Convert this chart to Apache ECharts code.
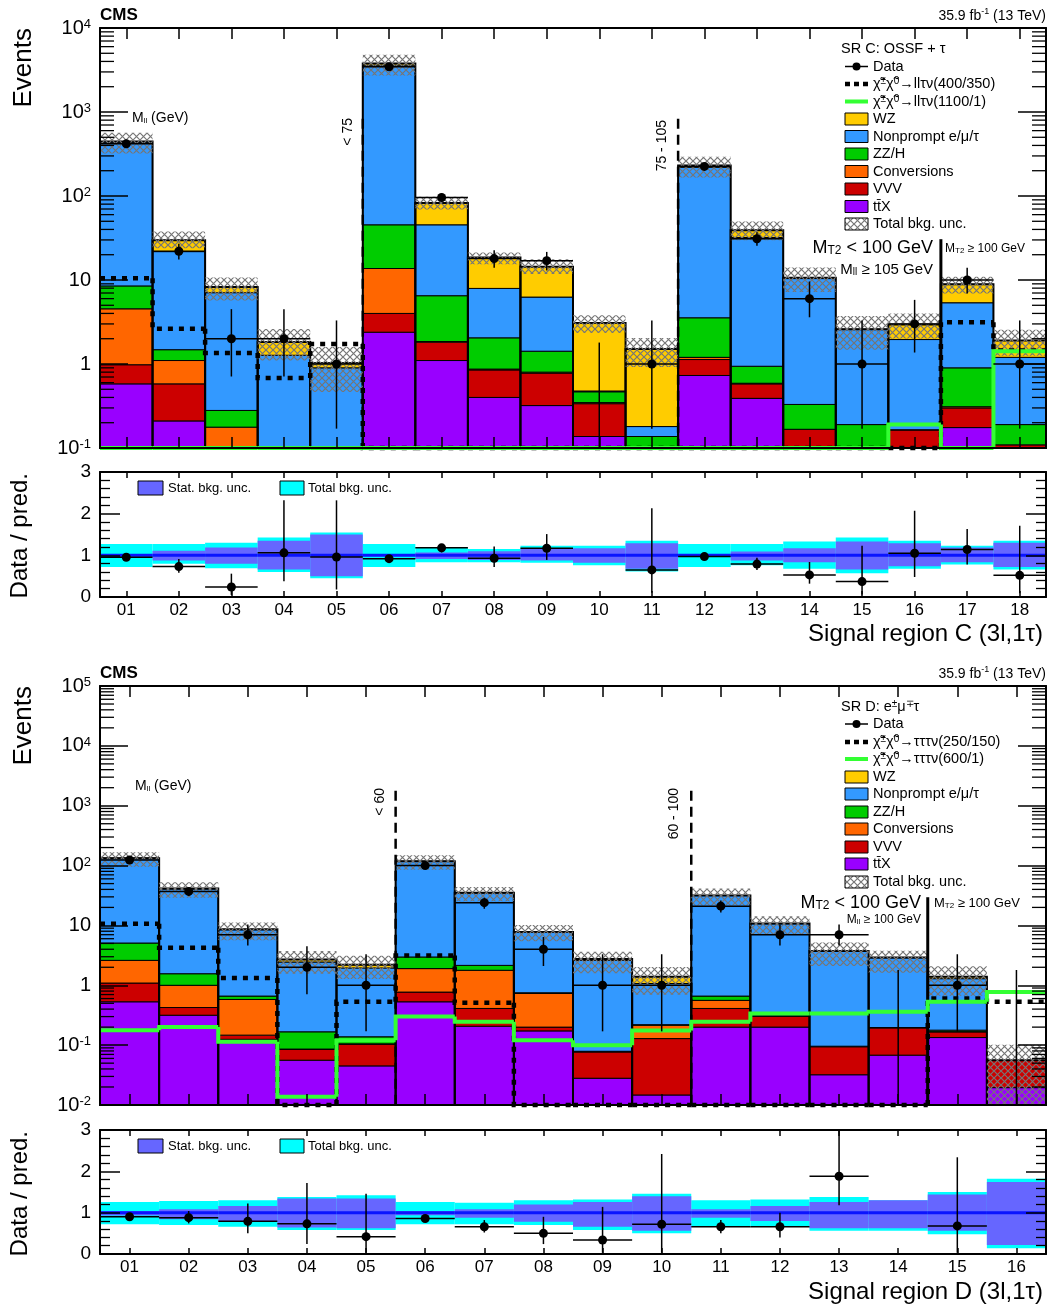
<!DOCTYPE html>
<html><head><meta charset="utf-8">
<script src="https://cdn.jsdelivr.net/npm/echarts@6/dist/echarts.min.js"></script>
<style>html,body{margin:0;padding:0;background:#fff}#c{width:1049px;height:1311px}</style>
</head><body><div id="c"></div>
<script>
// ===================== DATA: Signal region C =====================
const binsC = ['01','02','03','04','05','06','07','08','09','10','11','12','13','14','15','16','17','18'];
const ttxC  = [0.58, 0.21, 0.02, 0.01, 0.01, 2.39, 1.1, 0.4, 0.32, 0.137, 0.02, 0.73, 0.39, 0.04, 0.03, 0.03, 0.175, 0.05];
const vvvC  = [0.40, 0.37, 0.03, 0.01, 0.01, 1.61, 0.72, 0.45, 0.46, 0.20, 0.02, 0.40, 0.19, 0.127, 0.02, 0.134, 0.125, 0.059];
const convC = [3.56, 0.52, 0.127, 0.01, 0.01, 9.7, 0.03, 0.02, 0.02, 0.01, 0.0, 0.07, 0.01, 0.0, 0.0, 0.0, 0.01, 0.0];
const zzC   = [3.96, 0.38, 0.103, 0.03, 0.02, 31.7, 4.65, 1.18, 0.62, 0.12, 0.097, 2.35, 0.35, 0.163, 0.14, 0.001, 0.59, 0.081];
const npC   = [429.5, 20.3, 6.78, 1.21, 0.85, 3565, 38.9, 5.89, 4.84, 0.01, 0.043, 216.5, 31.1, 10.07, 2.38, 1.79, 4.46, 1.01];
const wzC   = [7, 8.0, 1.19, 0.56, 0.13, 170, 37.1, 10.56, 8.14, 2.61, 1.33, 11, 7.2, 0.2, 0.03, 1.0, 3.51, 0.7];
const dataC   = [418, 22, 2, 2, 1, 3450, 96, 18, 17, 0, 1, 225, 31, 6, 1, 3, 10, 1];
const dataLoC = [398, 17.5, 0.71, 0.71, 0.17, 3391, 86, 14, 13, 0, 0.17, 210, 25.5, 3.6, 0.17, 1.37, 6.9, 0.17];
const dataHiC = [439, 27, 4.5, 4.5, 3.3, 3509, 107, 22.6, 21.6, 1.8, 3.3, 240, 37, 9.6, 3.3, 5.8, 14, 3.3];
const sigAC = [10.5, 2.62, 1.35, 0.68, 1.73, 0.1, 0.1, 0.1, 0.1, 0.1, 0.1, 0.1, 0.1, 0.1, 0.1, 0.1, 3.15, 1.45];
const sigBC = [0.1, 0.1, 0.1, 0.1, 0.1, 0.1, 0.1, 0.1, 0.1, 0.1, 0.1, 0.1, 0.1, 0.1, 0.1, 0.19, 0.1, 1.42];
const totLoC  = [0.72, 0.8, 0.69, 0.6, 0.45, 0.72, 0.835, 0.835, 0.82, 0.76, 0.61, 0.72, 0.76, 0.68, 0.57, 0.68, 0.78, 0.66];
const totHiC  = [1.27, 1.27, 1.30, 1.43, 1.55, 1.27, 1.19, 1.15, 1.23, 1.23, 1.35, 1.27, 1.27, 1.33, 1.43, 1.35, 1.23, 1.35];
const statLoC = [0.97, 0.875, 0.8, 0.66, 0.5, 0.98, 0.91, 0.89, 0.875, 0.82, 0.68, 0.97, 0.875, 0.835, 0.66, 0.74, 0.835, 0.72];
const statHiC = [1.03, 1.11, 1.19, 1.35, 1.5, 1.02, 1.07, 1.1, 1.15, 1.17, 1.29, 1.03, 1.09, 1.17, 1.33, 1.29, 1.19, 1.30];
const ratioC   = [0.955, 0.73, 0.24, 1.06, 0.96, 0.92, 1.18, 0.93, 1.17, null, 0.65, 0.97, 0.79, 0.53, 0.37, 1.05, 1.14, 0.52];
const ratioLoC = [0.92, 0.58, 0.05, 0.38, 0.18, 0.9, 1.07, 0.72, 0.89, null, 0.1, 0.9, 0.65, 0.32, 0.06, 0.48, 0.78, 0.09];
const ratioHiC = [0.99, 0.91, 0.56, 2.32, 2.32, 0.94, 1.27, 1.21, 1.51, null, 2.13, 1.03, 0.94, 0.84, 1.23, 2.07, 1.63, 1.71];

// ===================== DATA: Signal region D =====================
const binsD = ['01','02','03','04','05','06','07','08','09','10','11','12','13','14','15','16'];
const ttxD  = [0.53, 0.316, 0.125, 0.056, 0.045, 0.53, 0.207, 0.173, 0.028, 0.0147, 0.2, 0.2, 0.032, 0.068, 0.134, 0.0195];
const vvvD  = [0.56, 0.109, 0.022, 0.029, 0.059, 0.24, 0.203, 0.027, 0.049, 0.114, 0.21, 0.104, 0.062, 0.127, 0.033, 0.0365];
const convD = [1.52, 0.575, 0.433, 0.001, 0.001, 1.13, 1.37, 0.53, 0.001, 0.087, 0.15, 0.001, 0.001, 0.001, 0.001, 0];
const zzD   = [2.47, 0.56, 0.08, 0.081, 0.033, 1.07, 0.37, 0.02, 0.001, 0.004, 0.1, 0.005, 0.001, 0.001, 0.01, 0];
const npD   = [126.9, 39.24, 7.81, 2.283, 1.812, 114.03, 32.85, 6.99, 2.521, 0.85, 30.94, 10.39, 3.634, 2.693, 1.112, 0];
const wzD   = [1, 0.5, 0.13, 0.25, 0.25, 1, 0.3, 0.06, 0.15, 0.32, 0.1, 0.05, 0.02, 0.01, 0.1, 0];
const dataD   = [124, 37, 7, 2, 1, 100, 24, 4, 1, 1, 21, 7, 7, 0, 1, 0];
const dataLoD = [113, 31, 4.6, 0.71, 0.17, 90, 19, 2.1, 0.17, 0.17, 16.4, 4.6, 4.6, 0, 0.17, 0];
const dataHiD = [135, 43, 10.4, 4.5, 3.3, 110, 29, 6.4, 3.3, 3.3, 26, 10.4, 10.4, 1.8, 3.3, 1.8];
const sigAD = [10.7, 4.24, 1.32, 0.01, 0.53, 3.16, 0.51, 0.01, 0.01, 0.01, 0.01, 0.01, 0.01, 0.01, 0.6, 0.53];
const sigBD = [0.178, 0.2, 0.114, 0.0138, 0.121, 0.3, 0.245, 0.121, 0.1, 0.175, 0.245, 0.337, 0.337, 0.36, 0.53, 0.77];
const totLoD  = [0.72, 0.7, 0.66, 0.58, 0.58, 0.72, 0.72, 0.7, 0.58, 0.5, 0.68, 0.66, 0.56, 0.56, 0.48, 0.14];
const totHiD  = [1.26, 1.28, 1.30, 1.38, 1.42, 1.26, 1.24, 1.30, 1.32, 1.46, 1.30, 1.32, 1.38, 1.30, 1.5, 1.82];
const statLoD = [0.93, 0.84, 0.8, 0.64, 0.62, 0.94, 0.88, 0.78, 0.66, 0.56, 0.88, 0.8, 0.62, 0.62, 0.56, 0.22];
const statHiD = [1.04, 1.08, 1.16, 1.34, 1.34, 1.04, 1.08, 1.2, 1.26, 1.4, 1.08, 1.16, 1.26, 1.30, 1.44, 1.74];
const ratioD   = [0.9, 0.88, 0.79, 0.73, 0.42, 0.86, 0.66, 0.5, 0.34, 0.72, 0.66, 0.66, 1.88, null, 0.68, null];
const ratioLoD = [0.85, 0.74, 0.5, 0.24, 0.03, 0.78, 0.52, 0.24, 0.03, 0.03, 0.5, 0.4, 1.18, null, 0.03, null];
const ratioHiD = [0.96, 1.04, 1.22, 1.72, 1.46, 0.92, 0.82, 0.9, 1.14, 2.42, 0.82, 1.0, 2.98, null, 2.34, null];

// region separators: [bin index right of the edge, top value, dashed?]
const sepC = [[5, 830, 1], [11, 830, 1], [16, 30.6, 0]];
const sepD = [[5, 1780, 1], [10, 1780, 1], [14, 29.6, 0]];

// ===================== STYLE =====================
const FONT = "'Liberation Sans', Arial, Helvetica, sans-serif";
const COL = {wz:'#ffcc00', np:'#3399ff', zz:'#00cc00', conv:'#ff6600', vvv:'#cc0000', ttx:'#9900ff'};
const SIG_GREEN = '#33ff33';

const hatch = document.createElement('canvas');
hatch.width = 7; hatch.height = 7;
(function(){ const g = hatch.getContext('2d'); g.strokeStyle = '#767676'; g.lineWidth = 1.2;
  g.beginPath(); g.moveTo(0,0); g.lineTo(7,7); g.moveTo(7,0); g.lineTo(0,7); g.stroke(); })();
const HATCH = {image: hatch, repeat: 'repeat'};

// ===================== RENDERERS =====================
function rectRender(style, yMin) {
  return function(params, api) {
    const i = api.value(0); let lo = api.value(1); const hi = api.value(2);
    if (lo < yMin) lo = yMin;
    if (!(hi > lo)) return null;
    const w = api.size([1, 0])[0];
    const a = api.coord([i, hi]), b = api.coord([i, lo]);
    return {type:'rect', shape:{x:a[0]-w/2, y:a[1], width:w, height:b[1]-a[1]}, style: Object.assign({}, style)};
  };
}
function stepRender(style, yMin) {
  return function(params, api) {
    const i = api.value(0); const v = Math.max(api.value(1), yMin); const pv = api.value(2);
    const w = api.size([1, 0])[0];
    const p = api.coord([i, v]);
    const pts = [];
    if (pv > 0) { const q = api.coord([i, Math.max(pv, yMin)]); pts.push([p[0]-w/2, q[1]]); }
    pts.push([p[0]-w/2, p[1]], [p[0]+w/2, p[1]]);
    return {type:'polyline', shape:{points:pts}, style: Object.assign({fill:'none'}, style)};
  };
}
function dataRender(yMin, r) {
  return function(params, api) {
    const i = api.value(0), v = api.value(1), lo = Math.max(api.value(2), yMin), hi = api.value(3);
    const w = api.size([1, 0])[0];
    const ch = [];
    const pH = api.coord([i, hi]), pL = api.coord([i, lo]);
    ch.push({type:'line', shape:{x1:pH[0], y1:pH[1], x2:pL[0], y2:pL[1]}, style:{stroke:'#000', lineWidth:1.5}});
    if (v > 0) {
      const p = api.coord([i, v]);
      ch.push({type:'line', shape:{x1:p[0]-w/2, y1:p[1], x2:p[0]+w/2, y2:p[1]}, style:{stroke:'#000', lineWidth:1.5}});
      ch.push({type:'circle', shape:{cx:p[0], cy:p[1], r:r}, style:{fill:'#000'}});
    }
    return {type:'group', children:ch};
  };
}
function sepRender(yMin) {
  return function(params, api) {
    const e = api.value(0), top = api.value(1), dashed = api.value(2);
    const w = api.size([1, 0])[0];
    const a = api.coord([e, top]), b = api.coord([e, yMin]);
    const x = a[0] - w/2;
    const st = {stroke:'#000', lineWidth: dashed ? 2.5 : 3};
    if (dashed) st.lineDash = [10, 6];
    return {type:'line', shape:{x1:x, y1:a[1], x2:x, y2:b[1]}, style:st};
  };
}
function logTickRender(params, api) {
  const v = api.value(1); const cs = params.coordSys; const y = api.coord([0, v])[1]; const L = 14;
  return {type:'group', children:[
    {type:'line', shape:{x1:cs.x, y1:y, x2:cs.x+L, y2:y}, style:{stroke:'#000', lineWidth:1.3}},
    {type:'line', shape:{x1:cs.x+cs.width-L, y1:y, x2:cs.x+cs.width, y2:y}, style:{stroke:'#000', lineWidth:1.3}}]};
}
function unityRender(params, api) {
  const i = api.value(0); const w = api.size([1, 0])[0]; const p = api.coord([i, 1]);
  return {type:'line', shape:{x1:p[0]-w/2, y1:p[1], x2:p[0]+w/2, y2:p[1]}, style:{stroke:'#0a14ff', lineWidth:3}};
}

// ===================== AXES =====================
function logLabel(v) {
  const e = Math.round(Math.log10(v));
  if (e === 0) return '1';
  if (e === 1) return '10';
  return '10{s|' + e + '}';
}
const AX_LINE = {show:true, onZero:false, lineStyle:{color:'#000', width:2}};
function mainAxes(gi, cats, yMin, yMax) {
  const dec = Math.round(Math.log10(yMax / yMin));
  const xb = {gridIndex:gi, type:'category', data:cats, position:'bottom', boundaryGap:true, z:10,
    axisLine:AX_LINE, axisTick:{show:true, inside:true, alignWithLabel:true, length:11, lineStyle:{color:'#000', width:1.5}},
    axisLabel:{show:false}, splitLine:{show:false}};
  const xt = Object.assign({}, xb, {position:'top'});
  const yl = {gridIndex:gi, type:'log', logBase:10, min:yMin, max:yMax, splitNumber:dec, position:'left', z:10,
    axisLine:AX_LINE, axisTick:{show:true, inside:true, length:28, lineStyle:{color:'#000', width:1.5}},
    axisLabel:{show:true, showMinLabel:true, showMaxLabel:true, formatter:logLabel, color:'#000', fontSize:20, fontFamily:FONT, margin:9,
      rich:{s:{fontSize:13, fontFamily:FONT, color:'#000', verticalAlign:'top', lineHeight:12}}},
    splitLine:{show:false}};
  const yr = Object.assign({}, yl, {position:'right', axisLabel:{show:false}});
  return {x:[xb, xt], y:[yl, yr]};
}
function ratioAxes(gi, cats) {
  const xb = {gridIndex:gi, type:'category', data:cats, position:'bottom', boundaryGap:true, z:10,
    axisLine:AX_LINE, axisTick:{show:true, inside:true, alignWithLabel:true, length:6, lineStyle:{color:'#000', width:1.5}},
    axisLabel:{show:true, interval:0, color:'#000', fontSize:17, fontFamily:FONT, margin:5}, splitLine:{show:false}};
  const xt = Object.assign({}, xb, {position:'top', axisLabel:{show:false}});
  const yl = {gridIndex:gi, type:'value', min:0, max:3, interval:1, position:'left', z:10,
    axisLine:AX_LINE, axisTick:{show:true, inside:true, length:20, lineStyle:{color:'#000', width:1.5}},
    minorTick:{show:true, splitNumber:5, length:10, lineStyle:{color:'#000', width:1.3}},
    axisLabel:{show:true, showMinLabel:true, showMaxLabel:true, color:'#000', fontSize:19, fontFamily:FONT, margin:9},
    splitLine:{show:false}};
  const yr = Object.assign({}, yl, {position:'right', axisLabel:{show:false}});
  return {x:[xb, xt], y:[yl, yr]};
}

// ===================== SERIES BUILDERS =====================
function mainSeries(P, xi, yi) {
  const N = P.cats.length, yMin = P.yMin;
  const out = [];
  const cum = new Array(N).fill(0);
  P.comps.forEach(function(c) {
    const rows = [];
    for (let i = 0; i < N; i++) {
      const lo = cum[i], hi = cum[i] + c.vals[i]; cum[i] = hi;
      if (hi > lo && hi > yMin) rows.push([i, Math.max(lo, yMin), hi]);
    }
    out.push({type:'custom', name:c.name, xAxisIndex:xi, yAxisIndex:yi, encode:{x:0, y:2}, data:rows,
      renderItem: rectRender({fill:c.color, stroke:'#000', lineWidth:1}, yMin)});
  });
  const tot = cum.slice();
  out.push({type:'custom', name:'Total', xAxisIndex:xi, yAxisIndex:yi, encode:{x:0, y:2},
    data: tot.map(function(t, i){ return [i, yMin, t]; }).filter(function(r){ return r[2] > yMin; }),
    renderItem: rectRender({fill:'none', stroke:'#000', lineWidth:2}, yMin)});
  out.push({type:'custom', name:'Total bkg. unc.', xAxisIndex:xi, yAxisIndex:yi, encode:{x:0, y:2},
    data: tot.map(function(t, i){ return [i, Math.max(t * P.totLo[i], yMin), t * P.totHi[i]]; }).filter(function(r){ return r[2] > yMin; }),
    renderItem: rectRender({fill:HATCH}, yMin)});
  out.push({type:'custom', name:'sep', xAxisIndex:xi, yAxisIndex:yi, encode:{x:0, y:1}, data:P.seps, renderItem: sepRender(yMin)});
  out.push({type:'custom', name:'sigA', xAxisIndex:xi, yAxisIndex:yi, encode:{x:0, y:1},
    data: P.sigA.map(function(v, i){ return [i, v, i > 0 ? P.sigA[i-1] : -1]; }),
    renderItem: stepRender({stroke:'#000', lineWidth:4.5, lineDash:[5, 6]}, yMin)});
  out.push({type:'custom', name:'sigB', xAxisIndex:xi, yAxisIndex:yi, encode:{x:0, y:1},
    data: P.sigB.map(function(v, i){ return [i, v, i > 0 ? P.sigB[i-1] : -1]; }),
    renderItem: stepRender({stroke:SIG_GREEN, lineWidth:4}, yMin)});
  out.push({type:'custom', name:'Data', xAxisIndex:xi, yAxisIndex:yi, encode:{x:0, y:3},
    data: P.data.map(function(v, i){ return [i, v, P.dataLo[i], P.dataHi[i]]; }),
    renderItem: dataRender(yMin, 4.5)});
  const minor = [];
  for (let k = Math.round(Math.log10(P.yMin)); k < Math.round(Math.log10(P.yMax)); k++)
    for (let m = 2; m <= 9; m++) minor.push([0, m * Math.pow(10, k)]);
  out.push({type:'custom', name:'ticks', xAxisIndex:xi, yAxisIndex:yi, encode:{x:0, y:1}, z:5, data:minor, renderItem: logTickRender});
  return out;
}
function ratioSeries(P, xi, yi) {
  const idx = P.cats.map(function(_, i){ return i; });
  const out = [];
  out.push({type:'custom', name:'Total bkg. unc. (ratio)', xAxisIndex:xi, yAxisIndex:yi, encode:{x:0, y:2},
    data: idx.map(function(i){ return [i, P.totLo[i], P.totHi[i]]; }), renderItem: rectRender({fill:'#00ffff'}, 0)});
  out.push({type:'custom', name:'Stat. bkg. unc.', xAxisIndex:xi, yAxisIndex:yi, encode:{x:0, y:2},
    data: idx.map(function(i){ return [i, P.statLo[i], P.statHi[i]]; }), renderItem: rectRender({fill:'#6666ff'}, 0)});
  out.push({type:'custom', name:'unity', xAxisIndex:xi, yAxisIndex:yi, encode:{x:0, y:1},
    data: idx.map(function(i){ return [i, 1]; }), renderItem: unityRender});
  out.push({type:'custom', name:'Data / pred.', xAxisIndex:xi, yAxisIndex:yi, encode:{x:0, y:1},
    data: idx.filter(function(i){ return P.ratio[i] != null; }).map(function(i){ return [i, P.ratio[i], P.ratioLo[i], P.ratioHi[i]]; }),
    renderItem: dataRender(0, 4.5)});
  return out;
}

function comps(ttx, vvv, conv, zz, np, wz) {
  return [
    {name:'tt\u0304X', vals:ttx, color:COL.ttx},
    {name:'VVV', vals:vvv, color:COL.vvv},
    {name:'Conversions', vals:conv, color:COL.conv},
    {name:'ZZ/H', vals:zz, color:COL.zz},
    {name:'Nonprompt e/\u03bc/\u03c4', vals:np, color:COL.np},
    {name:'WZ', vals:wz, color:COL.wz}];
}
const PC = {cats:binsC, yMin:0.1, yMax:1e4, comps:comps(ttxC, vvvC, convC, zzC, npC, wzC),
  data:dataC, dataLo:dataLoC, dataHi:dataHiC, sigA:sigAC, sigB:sigBC, totLo:totLoC, totHi:totHiC,
  statLo:statLoC, statHi:statHiC, ratio:ratioC, ratioLo:ratioLoC, ratioHi:ratioHiC, seps:sepC};
const PD = {cats:binsD, yMin:0.01, yMax:1e5, comps:comps(ttxD, vvvD, convD, zzD, npD, wzD),
  data:dataD, dataLo:dataLoD, dataHi:dataHiD, sigA:sigAD, sigB:sigBD, totLo:totLoD, totHi:totHiD,
  statLo:statLoD, statHi:statHiD, ratio:ratioD, ratioLo:ratioLoD, ratioHi:ratioHiD, seps:sepD};

const aCm = mainAxes(0, binsC, PC.yMin, PC.yMax), aCr = ratioAxes(1, binsC);
const aDm = mainAxes(2, binsD, PD.yMin, PD.yMax), aDr = ratioAxes(3, binsD);

// ===================== TEXT / LEGEND GRAPHICS =====================
const RICH = {
  s:{fontSize:10, fontFamily:FONT, fill:'#000', verticalAlign:'top', lineHeight:10},
  b:{fontSize:10, fontFamily:FONT, fill:'#000', verticalAlign:'bottom', lineHeight:10},
  bb:{fontSize:12, fontFamily:FONT, fill:'#000', verticalAlign:'bottom', lineHeight:12},
  sl:{fontSize:9, fontFamily:FONT, fill:'#000', verticalAlign:'top', lineHeight:9},
  t:{fontSize:8, fontFamily:FONT, fill:'#000', verticalAlign:'bottom', lineHeight:8}
};
function txt(x, y, text, o) {
  o = o || {};
  return {type:'text', x:x, y:y, rotation:o.rot || 0, silent:true, z:100,
    style:{text:text, fill:'#000', font:(o.weight || 'normal') + ' ' + (o.size || 14) + 'px ' + FONT,
      lineHeight:o.lh, align:o.align || 'left', verticalAlign:o.va || 'middle', textAlign:o.align || 'left', textVerticalAlign:o.va || 'middle',
      rich:RICH}};
}
function legendEls(ys, title, sigAtxt, sigBtxt) {
  const bx = 845, bw = 23, bh = 12, tx = 873, fs = 14.5;
  const e = [];
  e.push(txt(841, ys[0], title, {size:fs}));
  e.push({type:'line', z:100, shape:{x1:bx, y1:ys[1], x2:bx+bw, y2:ys[1]}, style:{stroke:'#000', lineWidth:1.5}});
  e.push({type:'circle', z:100, shape:{cx:bx+bw/2, cy:ys[1], r:4}, style:{fill:'#000'}});
  e.push(txt(tx, ys[1], 'Data', {size:fs}));
  e.push({type:'line', z:100, shape:{x1:bx, y1:ys[2], x2:bx+bw, y2:ys[2]}, style:{stroke:'#000', lineWidth:4.5, lineDash:[5, 4]}});
  e.push(txt(tx, ys[2], sigAtxt, {size:fs}));
  e.push({type:'line', z:100, shape:{x1:bx, y1:ys[3], x2:bx+bw, y2:ys[3]}, style:{stroke:SIG_GREEN, lineWidth:4}});
  e.push(txt(tx, ys[3], sigBtxt, {size:fs}));
  const boxes = [[COL.wz, 'WZ'], [COL.np, 'Nonprompt e/\u03bc/\u03c4'], [COL.zz, 'ZZ/H'], [COL.conv, 'Conversions'],
                 [COL.vvv, 'VVV'], [COL.ttx, 'tt\u0304X'], [HATCH, 'Total bkg. unc.']];
  boxes.forEach(function(b, k) {
    const y = ys[4 + k];
    e.push({type:'rect', z:100, shape:{x:bx, y:y-bh/2, width:bw, height:bh}, style:{fill:b[0], stroke:'#000', lineWidth:1}});
    e.push(txt(tx, y, b[1], {size:fs}));
  });
  return e;
}
function ratioLegendEls(y) {
  return [
    {type:'rect', z:100, shape:{x:138, y:y-7, width:25, height:14}, style:{fill:'#6666ff', stroke:'#000', lineWidth:1}},
    txt(168, y, 'Stat. bkg. unc.', {size:13}),
    {type:'rect', z:100, shape:{x:280, y:y-7, width:24, height:14}, style:{fill:'#00ffff', stroke:'#000', lineWidth:1}},
    txt(308, y, 'Total bkg. unc.', {size:13})];
}

const G = [];
// Panel C texts
G.push(txt(100, 15, 'CMS', {size:17, weight:'bold'}));
G.push(txt(1046, 16, '35.9 fb{sl|-1} (13 TeV)', {size:14, align:'right', lh:18}));
G.push(txt(24, 28, 'Events', {size:26, rot:Math.PI/2, align:'right'}));
G.push(txt(20, 473, 'Data / pred.', {size:24, rot:Math.PI/2, align:'right'}));
G.push(txt(1043, 634, 'Signal region C (3l,1\u03c4)', {size:24, align:'right'}));
G.push(txt(132, 118, 'M{t|ll} (GeV)', {size:14}));
G.push(txt(348, 118, '< 75', {size:14, rot:Math.PI/2, align:'right'}));
G.push(txt(662, 120, '75 - 105', {size:14, rot:Math.PI/2, align:'right'}));
G.push(txt(933, 248, 'M{bb|T2} < 100 GeV', {size:18, align:'right'}));
G.push(txt(933, 270, 'M{b|ll} \u2265 105 GeV', {size:15, align:'right'}));
G.push(txt(945, 249, 'M{t|T2} \u2265 100 GeV', {size:12}));
G.push.apply(G, legendEls([49, 66.5, 84, 101.5, 119, 136.5, 154, 171.5, 189, 206.5, 224],
  'SR C: OSSF + \u03c4',
  '\u03c7\u0303{s|\u00b1}\u03c7\u0303{s|0}\u2192ll\u03c4\u03bd(400/350)',
  '\u03c7\u0303{s|\u00b1}\u03c7\u0303{s|0}\u2192ll\u03c4\u03bd(1100/1)'));
G.push.apply(G, ratioLegendEls(488));
// Panel D texts
G.push(txt(100, 673, 'CMS', {size:17, weight:'bold'}));
G.push(txt(1046, 674, '35.9 fb{sl|-1} (13 TeV)', {size:14, align:'right', lh:18}));
G.push(txt(24, 686, 'Events', {size:26, rot:Math.PI/2, align:'right'}));
G.push(txt(20, 1131, 'Data / pred.', {size:24, rot:Math.PI/2, align:'right'}));
G.push(txt(1043, 1292, 'Signal region D (3l,1\u03c4)', {size:24, align:'right'}));
G.push(txt(135, 786, 'M{t|ll} (GeV)', {size:14}));
G.push(txt(380, 788, '< 60', {size:14, rot:Math.PI/2, align:'right'}));
G.push(txt(674, 788, '60 - 100', {size:14, rot:Math.PI/2, align:'right'}));
G.push(txt(921, 903, 'M{bb|T2} < 100 GeV', {size:18, align:'right'}));
G.push(txt(921, 920, 'M{t|ll} \u2265 100 GeV', {size:12, align:'right'}));
G.push(txt(934, 903, 'M{t|T2} \u2265 100 GeV', {size:13}));
G.push.apply(G, legendEls([707, 724, 742, 759, 777, 794, 812, 829, 847, 864, 882],
  'SR D: e{s|\u00b1}\u03bc{s|\u2213}\u03c4',
  '\u03c7\u0303{s|\u00b1}\u03c7\u0303{s|0}\u2192\u03c4\u03c4\u03c4\u03bd(250/150)',
  '\u03c7\u0303{s|\u00b1}\u03c7\u0303{s|0}\u2192\u03c4\u03c4\u03c4\u03bd(600/1)'));
G.push.apply(G, ratioLegendEls(1146));

const option = {
  animation:false, backgroundColor:'#ffffff',
  grid:[
    {left:100, top:28, width:946, height:420},
    {left:100, top:472, width:946, height:125},
    {left:100, top:686, width:946, height:419},
    {left:100, top:1130, width:946, height:124}],
  xAxis:[].concat(aCm.x, aCr.x, aDm.x, aDr.x),
  yAxis:[].concat(aCm.y, aCr.y, aDm.y, aDr.y),
  series:[].concat(mainSeries(PC, 0, 0), ratioSeries(PC, 2, 2), mainSeries(PD, 4, 4), ratioSeries(PD, 6, 6)),
  graphic:{elements:G}
};
const chart = echarts.init(document.getElementById('c'), null, {renderer:'canvas', width:1049, height:1311});
chart.setOption(option);
</script>
</body></html>
